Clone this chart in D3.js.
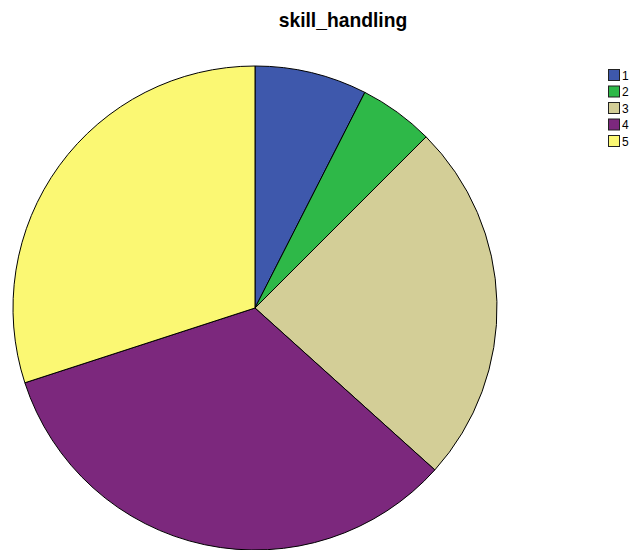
<!DOCTYPE html>
<html>
<head>
<meta charset="utf-8">
<script src="https://cdn.jsdelivr.net/npm/d3@7"></script>
<style>
  body { margin: 0; background: #fff; }
  svg { display: block; }
</style>
</head>
<body>
<svg width="631" height="550"></svg>
<script>
var categories = ["1", "2", "3", "4", "5"];
var counts = [9, 6, 29, 40, 36];
var colors = ["#3e58ac", "#2eb848", "#d3ce97", "#7c287d", "#fbf873"];

var svg = d3.select("svg"),
    width = +svg.attr("width"),
    height = +svg.attr("height");

var cx = 255, cy = 308, radius = 242;

var color = d3.scaleOrdinal().domain(categories).range(colors);

var data = categories.map(function(c, i) { return { cat: c, value: counts[i] }; });

var pie = d3.pie().sort(null).value(function(d) { return d.value; });
var arc = d3.arc().innerRadius(0).outerRadius(radius);

// title
svg.append("text")
  .attr("x", 343)
  .attr("y", 27)
  .attr("text-anchor", "middle")
  .style("font-family", "Liberation Sans, Arial, sans-serif")
  .style("font-weight", "bold")
  .style("font-size", "19.3px")
  .text("skill_handling");

var g = svg.append("g").attr("transform", "translate(" + cx + "," + cy + ")");

g.selectAll("path")
  .data(pie(data))
  .enter().append("path")
  .attr("d", arc)
  .attr("fill", function(d) { return color(d.data.cat); })
  .attr("stroke", "#000")
  .attr("stroke-width", 1);

// legend
var legend = svg.append("g")
  .attr("class", "legend")
  .selectAll("g")
  .data(categories)
  .enter().append("g")
  .attr("transform", function(d, i) { return "translate(608," + (69 + i * 16.5) + ")"; });

legend.append("rect")
  .attr("x", 0.5)
  .attr("y", 0.5)
  .attr("width", 11)
  .attr("height", 11)
  .attr("fill", function(d) { return color(d); })
  .attr("stroke", "#222")
  .attr("stroke-width", 1);

legend.append("text")
  .attr("x", 14)
  .attr("y", 10.5)
  .style("font-family", "Liberation Sans, Arial, sans-serif")
  .style("font-size", "12px")
  .text(function(d) { return d; });
</script>
</body>
</html>
